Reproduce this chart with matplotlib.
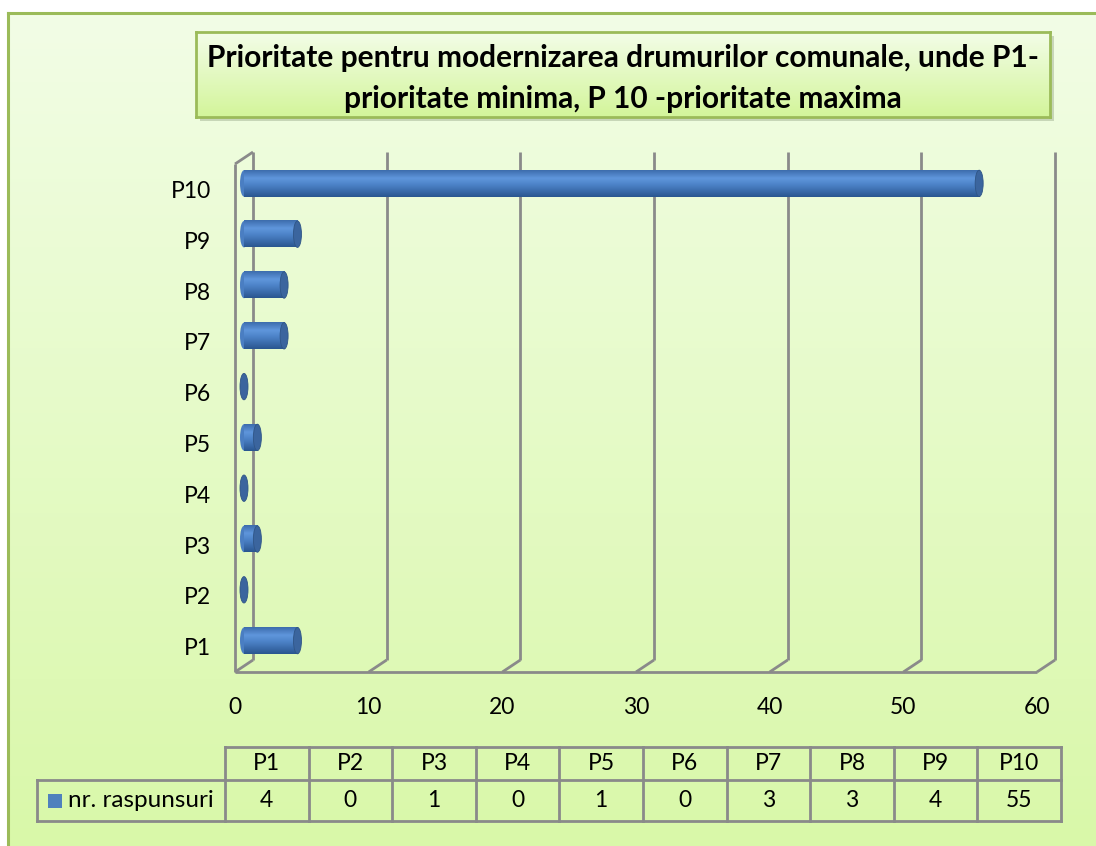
import numpy as np
import matplotlib
matplotlib.use("Agg")
import matplotlib.pyplot as plt
from matplotlib import transforms
from matplotlib.colors import LinearSegmentedColormap
from matplotlib.patches import Ellipse, Rectangle


categories = ["P1", "P2", "P3", "P4", "P5", "P6", "P7", "P8", "P9", "P10"]
responses = [4, 0, 1, 0, 1, 0, 3, 3, 4, 55]
x_ticks = [0, 10, 20, 30, 40, 50, 60]
series_name = "nr. raspunsuri"
chart_title = ("Prioritate pentru modernizarea drumurilor comunale, unde P1-\n"
               "prioritate minima, P 10 -prioritate maxima")

FIG_W, FIG_H = 1096, 846
PLOT_BOX = (235, 164, 1037, 672)      # front plane: left, top, right, bottom (px)
TITLE_BOX = (196, 32, 1050, 117)
TABLE_BOX = (37, 747, 1061, 821)
LABEL_W = 188                         # width of the row label cell
HEAD_H = 33                           # header row height
DEPTH = (18, 12)                      # 3d depth offset in px
BAR_H = 0.52
CAP_PX = 8

GRID = "#8a8a8a"
BORDER = "#9bbb59"
FS = 16.5

plt.rcParams["font.family"] = ["Lato", "DejaVu Sans"]


def px_rect(left, top, right, bottom):
    return [left / FIG_W, 1 - bottom / FIG_H, (right - left) / FIG_W, (bottom - top) / FIG_H]


def vgrad(ax, top_color, bottom_color, **kw):
    cmap = LinearSegmentedColormap.from_list("bg", [top_color, bottom_color])
    ax.imshow(np.linspace(0, 1, 256).reshape(-1, 1), cmap=cmap, aspect="auto",
              extent=(0, 1, 0, 1), interpolation="bilinear", **kw)


fig = plt.figure(figsize=(FIG_W / 100, FIG_H / 100), dpi=100)
fig.patch.set_facecolor("white")

# chart area background
bg = fig.add_axes([8 / FIG_W, 0, 1 - 8 / FIG_W, 1 - 13 / FIG_H], zorder=-10)
vgrad(bg, "#f2fde6", "#d9f8a9")
bg.set_xticks([])
bg.set_yticks([])
for side in ["right", "bottom"]:
    bg.spines[side].set_visible(False)
for side in ["left", "top"]:
    bg.spines[side].set_color(BORDER)
    bg.spines[side].set_linewidth(2.2)

# title box with shadow
l, t, r, b = TITLE_BOX
sh = px_rect(l + 4, t + 4, r + 4, b + 4)
fig.add_artist(Rectangle((sh[0], sh[1]), sh[2], sh[3], transform=fig.transFigure,
                         facecolor="#7f8f70", alpha=0.35, edgecolor="none", zorder=-5))
tax = fig.add_axes(px_rect(*TITLE_BOX), zorder=1)
vgrad(tax, "#f3fde8", "#d3f59a")
tax.set_xticks([])
tax.set_yticks([])
for sp in tax.spines.values():
    sp.set_color(BORDER)
    sp.set_linewidth(2)
tax.text(0.5, 0.45, chart_title, ha="center", va="center", multialignment="center",
         fontsize=21.5, fontweight="bold", linespacing=1.58, transform=tax.transAxes)

# main 3d-looking bar chart
ax = fig.add_axes(px_rect(*PLOT_BOX), zorder=2)
ax.patch.set_visible(False)
for sp in ax.spines.values():
    sp.set_visible(False)

n = len(categories)
x_max = x_ticks[-1]
y_lo, y_hi = -0.5, n - 0.5
px_x = (PLOT_BOX[2] - PLOT_BOX[0]) / x_max
px_y = (PLOT_BOX[3] - PLOT_BOX[1]) / n
dxu, dyu = DEPTH[0] / px_x, DEPTH[1] / px_y

back = transforms.offset_copy(ax.transData, fig=fig, x=DEPTH[0], y=DEPTH[1], units="dots")
mid = transforms.offset_copy(ax.transData, fig=fig, x=DEPTH[0] / 2, y=DEPTH[1] / 2, units="dots")

line_kw = dict(color=GRID, lw=2, clip_on=False, zorder=1, solid_capstyle="butt")
# left wall
ax.plot([0, 0], [y_lo, y_hi], **line_kw)
ax.plot([0, dxu], [y_hi, y_hi + dyu], **line_kw)
# floor front edge
ax.plot([0, x_max], [y_lo, y_lo], **line_kw)
for tk in x_ticks:
    ax.plot([tk, tk], [y_lo, y_hi], transform=back, **line_kw)
    ax.plot([tk, tk + dxu], [y_lo, y_lo + dyu], **line_kw)

# cylinders
cyl = LinearSegmentedColormap.from_list(
    "cyl", [(0, "#3d6dad"), (0.3, "#5f96dc"), (0.55, "#4c82c7"), (1, "#2a5690")])
shade = np.linspace(0, 1, 64).reshape(-1, 1)
cap_w = CAP_PX / px_x
for i, v in enumerate(responses):
    if v > 0:
        ax.add_patch(Ellipse((0, i), cap_w, BAR_H, transform=mid, facecolor="#4a7ec2",
                             edgecolor="none", zorder=3, clip_on=False))
        ax.imshow(shade, cmap=cyl, aspect="auto", interpolation="bilinear",
                  extent=(0, v, i - BAR_H / 2, i + BAR_H / 2), transform=mid, zorder=4)
    ax.add_patch(Ellipse((v, i), cap_w, BAR_H, transform=mid, facecolor="#3b659e",
                         edgecolor="#2f5586", lw=0.6, zorder=5, clip_on=False))

ax.set_xlim(0, x_max)
ax.set_ylim(y_lo, y_hi)
ax.set_xticks(x_ticks)
ax.set_yticks(range(n), categories)
ax.tick_params(axis="y", length=0, pad=17, labelsize=FS)
ax.tick_params(axis="x", length=0, pad=18, labelsize=FS)

# data table, drawn in pixel units of its own box (y grows downward)
tab = fig.add_axes(px_rect(*TABLE_BOX), zorder=2)
tab.axis("off")
tw = TABLE_BOX[2] - TABLE_BOX[0]
th = TABLE_BOX[3] - TABLE_BOX[1]
tab.set_xlim(0, tw)
tab.set_ylim(th, 0)
col_w = (tw - LABEL_W) / n
tkw = dict(color=GRID, lw=2, clip_on=False, solid_capstyle="projecting")
tab.plot([LABEL_W, tw], [0, 0], **tkw)
tab.plot([0, tw], [HEAD_H, HEAD_H], **tkw)
tab.plot([0, tw], [th, th], **tkw)
tab.plot([0, 0], [HEAD_H, th], **tkw)
for k in range(n + 1):
    xk = LABEL_W + k * col_w
    tab.plot([xk, xk], [0, th], **tkw)
for k, (cat, val) in enumerate(zip(categories, responses)):
    xc = LABEL_W + (k + 0.5) * col_w
    tab.text(xc, HEAD_H / 2, cat, ha="center", va="center", fontsize=FS)
    tab.text(xc, (HEAD_H + th) / 2, str(val), ha="center", va="center", fontsize=FS)
tab.add_patch(Rectangle((11, (HEAD_H + th) / 2 - 7), 14, 14, facecolor="#4f81bd",
                        edgecolor="none"))
tab.text(31, (HEAD_H + th) / 2, series_name, ha="left", va="center", fontsize=17.5)

fig.savefig("out.png", dpi=100)
